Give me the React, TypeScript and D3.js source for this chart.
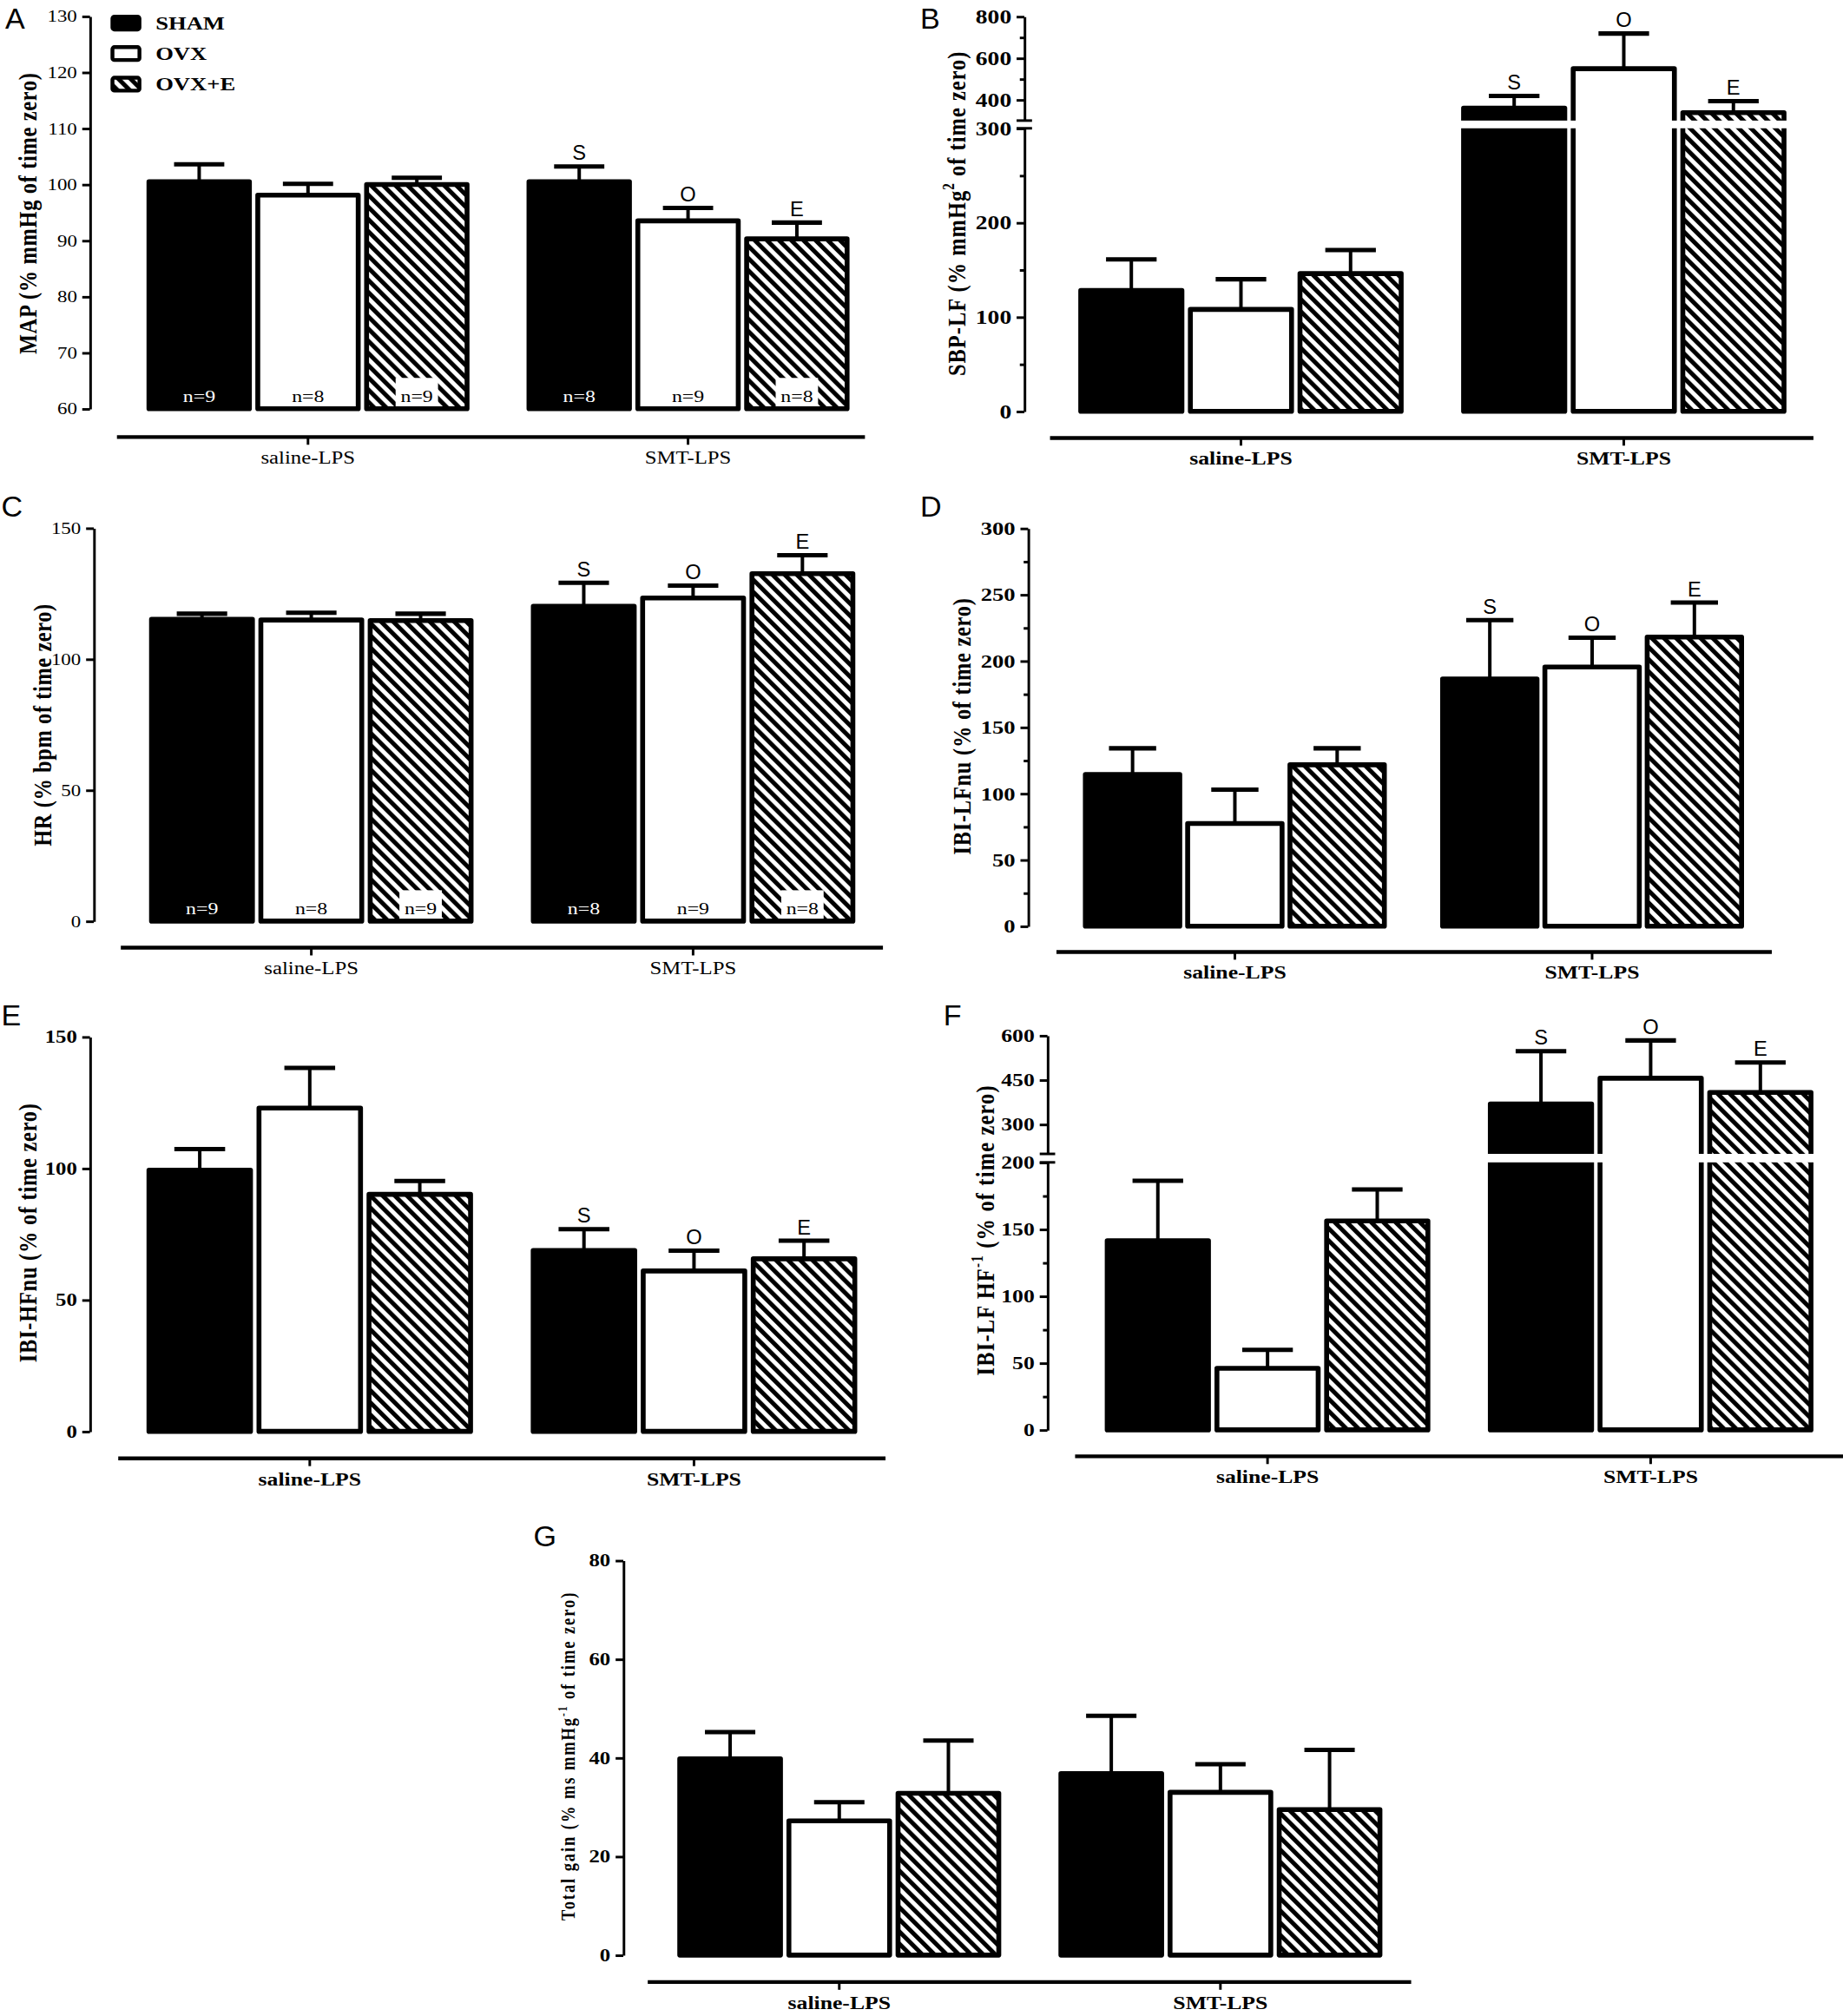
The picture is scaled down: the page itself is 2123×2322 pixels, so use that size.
import React, { useEffect, useRef } from 'react';
import * as d3 from 'd3';

// ---- data ----
const groups = ['saline-LPS', 'SMT-LPS'];
const series = ['SHAM', 'OVX', 'OVX+E'];
const nCounts = [['n=9', 'n=8', 'n=9'], ['n=8', 'n=9', 'n=8']];
const sigLetters = ['S', 'O', 'E'];

// [group][series] means and SEM
const mapMean = [[100.5, 98.1, 100.0], [100.5, 93.5, 90.3]];
const mapSem = [[3.1, 2.0, 1.2], [2.7, 2.3, 2.9]];
const sbpLfMean = [[128, 108, 146], [360, 549, 338]];
const sbpLfSem = [[33, 32, 25], [58, 169, 55]];
const hrMean = [[115.2, 114.9, 114.7], [120.1, 123.3, 132.6]];
const hrSem = [[2.1, 2.8, 2.6], [9.0, 4.7, 7.0]];
const lfNuMean = [[114.4, 77.4, 121.7], [186.4, 195.4, 218.0]];
const lfNuSem = [[19.7, 25.5, 12.4], [44.3, 22.1, 26.0]];
const hfNuMean = [[99.3, 122.9, 90.1], [68.8, 61.0, 65.6]];
const hfNuSem = [[8.0, 15.3, 5.1], [8.1, 7.7, 6.9]];
const lfHfMean = [[141.4, 46.0, 156.2], [368.9, 455.6, 407.8]];
const lfHfSem = [[44.8, 13.8, 23.6], [177.8, 127.7, 101.1]];
const gainMean = [[39.8, 27.2, 32.8], [36.8, 33.0, 29.5]];
const gainSem = [[5.4, 3.8, 10.7], [11.7, 5.7, 12.1]];

// tick values
const mapTicks = [60, 70, 80, 90, 100, 110, 120, 130];
const sbpLowTicks = [0, 100, 200, 300];
const sbpLowMinor = [50, 150, 250];
const sbpHighTicks = [400, 600, 800];
const sbpHighMinor = [500, 700];
const hrTicks = [0, 50, 100, 150];
const lfNuTicks = [0, 50, 100, 150, 200, 250, 300];
const lfNuMinor = [25, 75, 125, 175, 225, 275];
const hfNuTicks = [0, 50, 100, 150];
const lfHfLowTicks = [0, 50, 100, 150, 200];
const lfHfLowMinor = [25, 75, 125, 175];
const lfHfHighTicks = [300, 450, 600];
const gainTicks = [0, 20, 40, 60, 80];

// ---- layout ----
const W = 1434;
const H = 1568.4;
const SX = 1.24; // the figure's serif text is horizontally stretched
const SERIF = '"Liberation Serif", "Times New Roman", serif';
const SANS = '"Liberation Sans", Arial, sans-serif';
const BAR_STROKE = 3.8;
const FILLS = ['#000', '#fff', 'url(#hatch)'];

const panels = [
  {
    letter: 'A', lx: 4, ly: 22, mean: mapMean, sem: mapSem, axisX: 70,
    segments: [{ domain: [60, 130], range: [318, 12.6], ticks: mapTicks, minor: [] }],
    bars: [114, 661], xAxis: { y: 340, x0: 91, x1: 673 },
    title: [['MAP (% mmHg of time zero)', false]], tx: 21, ty: 166, tsize: 16.5, tls: 0.45,
    tickFont: 12.5, tickBold: false, catBold: false, nLabels: true, legend: true, sig: true,
  },
  {
    letter: 'B', lx: 716, ly: 22, mean: sbpLfMean, sem: sbpLfSem, axisX: 797,
    segments: [
      { domain: [0, 300], range: [320, 99.8], ticks: sbpLowTicks, minor: sbpLowMinor },
      { domain: [300, 800], range: [93.8, 12.8], ticks: sbpHighTicks, minor: sbpHighMinor },
    ],
    bars: [839, 1390], xAxis: { y: 340.7, x0: 817, x1: 1411 },
    title: [['SBP-LF (% mmHg', false], ['2', true], [' of time zero)', false]], tx: 744, ty: 166, tsize: 16.5, tls: 0.7,
    tickFont: 15, tickBold: true, catBold: true, nLabels: false, legend: false, sig: true,
  },
  {
    letter: 'C', lx: 1, ly: 402, mean: hrMean, sem: hrSem, axisX: 73,
    segments: [{ domain: [0, 150], range: [716.6, 410.8], ticks: hrTicks, minor: [] }],
    bars: [116, 665.5], xAxis: { y: 737.3, x0: 94, x1: 687 },
    title: [['HR (% bpm of time zero)', false]], tx: 33, ty: 564, tsize: 16.5, tls: 0.4,
    tickFont: 12.5, tickBold: false, catBold: false, nLabels: true, legend: false, sig: true,
  },
  {
    letter: 'D', lx: 716, ly: 402, mean: lfNuMean, sem: lfNuSem, axisX: 800,
    segments: [{ domain: [0, 300], range: [720.5, 411], ticks: lfNuTicks, minor: lfNuMinor }],
    bars: [842.6, 1357], xAxis: { y: 740.6, x0: 822, x1: 1378.6 },
    title: [['IBI-LFnu (% of time zero)', false]], tx: 748, ty: 565, tsize: 16.5, tls: 0.5,
    tickFont: 14.5, tickBold: true, catBold: true, nLabels: false, legend: false, sig: true,
  },
  {
    letter: 'E', lx: 1, ly: 798, mean: hfNuMean, sem: hfNuSem, axisX: 70,
    segments: [{ domain: [0, 150], range: [1113.6, 806.6], ticks: hfNuTicks, minor: [] }],
    bars: [114, 667], xAxis: { y: 1134.6, x0: 92, x1: 689 },
    title: [['IBI-HFnu (% of time zero)', false]], tx: 21, ty: 959, tsize: 16.5, tls: 0.5,
    tickFont: 13.5, tickBold: true, catBold: true, nLabels: false, legend: false, sig: true,
  },
  {
    letter: 'F', lx: 734, ly: 798, mean: lfHfMean, sem: lfHfSem, axisX: 815,
    segments: [
      { domain: [0, 200], range: [1112.4, 904.3], ticks: lfHfLowTicks, minor: lfHfLowMinor },
      { domain: [200, 600], range: [897.7, 805.6], ticks: lfHfHighTicks, minor: [] },
    ],
    bars: [859.6, 1411], xAxis: { y: 1133, x0: 836.5, x1: 1434 },
    title: [['IBI-LF HF', false], ['-1', true], [' (% of time zero)', false]], tx: 766, ty: 957, tsize: 16.5, tls: 0.8,
    tickFont: 14, tickBold: true, catBold: true, nLabels: false, legend: false, sig: true,
  },
  {
    letter: 'G', lx: 415, ly: 1203, mean: gainMean, sem: gainSem, axisX: 485,
    segments: [{ domain: [0, 80], range: [1521, 1214], ticks: gainTicks, minor: [] }],
    bars: [527, 1075.6], xAxis: { y: 1542, x0: 504, x1: 1098 },
    title: [['Total gain (% ms mmHg', false], ['-1', true], [' of time zero)', false]], tx: 442, ty: 1366, tsize: 12.5, tls: 1.3,
    tickFont: 13.5, tickBold: true, catBold: true, nLabels: false, legend: false, sig: false,
  },
];

function drawPanel(svg: any, p: any) {
  const g = svg.append('g');

  const segs = p.segments.map((s: any) => ({ ...s, scale: d3.scaleLinear().domain(s.domain).range(s.range) }));
  const yPos = (v: number) => {
    const s = segs.find((s: any) => v <= s.domain[1]) || segs[segs.length - 1];
    return s.scale(v);
  };
  const y0 = yPos(segs[0].domain[0]);

  const gx = d3.scaleBand<string>()
    .domain(groups)
    .range([p.bars[0] + BAR_STROKE / 2, p.bars[1] - BAR_STROKE / 2])
    .paddingInner(0.163);
  const sx = d3.scaleBand<string>()
    .domain(series)
    .range([0, gx.bandwidth()])
    .paddingInner(0.077);
  const bw = sx.bandwidth();

  const cells = groups.flatMap((grp, gi) => series.map((ser, si) => ({
    gi, si,
    mean: p.mean[gi][si],
    sem: p.sem[gi][si],
    x: (gx(grp) as number) + (sx(ser) as number),
  })));

  // bars
  g.append('g').selectAll('rect')
    .data(cells)
    .join('rect')
    .attr('x', (d: any) => d.x)
    .attr('y', (d: any) => yPos(d.mean))
    .attr('width', bw)
    .attr('height', (d: any) => y0 - yPos(d.mean))
    .attr('fill', (d: any) => FILLS[d.si])
    .attr('stroke', '#000')
    .attr('stroke-width', BAR_STROKE)
    .attr('stroke-linejoin', 'round');

  // error bars (upper only)
  const eb = g.append('g').attr('stroke', '#000');
  eb.selectAll('line.stem')
    .data(cells)
    .join('line')
    .attr('class', 'stem')
    .attr('x1', (d: any) => d.x + bw / 2)
    .attr('x2', (d: any) => d.x + bw / 2)
    .attr('y1', (d: any) => yPos(d.mean))
    .attr('y2', (d: any) => yPos(d.mean + d.sem))
    .attr('stroke-width', 2.7);
  eb.selectAll('line.cap')
    .data(cells)
    .join('line')
    .attr('class', 'cap')
    .attr('x1', (d: any) => d.x + bw * 0.25)
    .attr('x2', (d: any) => d.x + bw * 0.75)
    .attr('y1', (d: any) => yPos(d.mean + d.sem))
    .attr('y2', (d: any) => yPos(d.mean + d.sem))
    .attr('stroke-width', 3.4);

  // axis break gap across bars
  for (let i = 0; i < segs.length - 1; i++) {
    const yLow = segs[i].range[1];
    const yHigh = segs[i + 1].range[0];
    g.append('rect')
      .attr('x', p.bars[0] - 2)
      .attr('y', yHigh)
      .attr('width', p.bars[1] - p.bars[0] + 4)
      .attr('height', yLow - yHigh)
      .attr('fill', '#fff');
    [yLow, yHigh].forEach((yy) => {
      g.append('line')
        .attr('x1', p.axisX - 6).attr('x2', p.axisX + 6)
        .attr('y1', yy).attr('y2', yy)
        .attr('stroke', '#000').attr('stroke-width', 2);
    });
  }

  // y axis, one piece per segment
  segs.forEach((s: any) => {
    const ax = g.append('g')
      .attr('transform', `translate(${p.axisX},0)`)
      .call(d3.axisLeft(s.scale).tickValues(s.ticks).tickSize(6).tickSizeOuter(0).tickPadding(4))
      .attr('font-family', SERIF)
      .attr('font-size', p.tickFont)
      .attr('font-weight', p.tickBold ? 'bold' : 'normal');
    ax.select('.domain').attr('stroke-width', 2);
    ax.selectAll('.tick line').attr('stroke-width', 2);
    ax.selectAll('text')
      .attr('x', -10 / SX)
      .attr('transform', `scale(${SX},1)`);

    if (s.minor.length) {
      g.append('g')
        .attr('transform', `translate(${p.axisX},0)`)
        .call(d3.axisLeft(s.scale).tickValues(s.minor).tickSize(3.5).tickFormat(() => ''))
        .call((a: any) => a.select('.domain').remove())
        .selectAll('.tick line').attr('stroke-width', 2);
    }
  });

  // x axis
  const xa = g.append('g')
    .attr('transform', `translate(0,${p.xAxis.y})`)
    .call(d3.axisBottom(gx).tickSize(6).tickSizeOuter(0).tickPadding(5))
    .attr('font-family', SERIF)
    .attr('font-size', p.catBold ? 14 : 13.5)
    .attr('font-weight', p.catBold ? 'bold' : 'normal');
  xa.select('.domain').attr('d', `M${p.xAxis.x0},0H${p.xAxis.x1}`).attr('stroke-width', 3);
  xa.selectAll('.tick line').attr('stroke-width', 2);
  xa.selectAll('text').attr('transform', `scale(${SX},1)`);

  // y title
  const tt = g.append('text')
    .attr('transform', `translate(${p.tx},${p.ty}) scale(${SX},1) rotate(-90)`)
    .attr('text-anchor', 'middle')
    .attr('dy', '0.35em')
    .attr('font-family', SERIF)
    .attr('font-weight', 'bold')
    .attr('font-size', p.tsize)
    .attr('letter-spacing', p.tls);
  let shifted = false;
  p.title.forEach(([txt, sup]: [string, boolean]) => {
    const ts = tt.append('tspan').text(txt);
    if (sup) {
      ts.attr('font-size', p.tsize * 0.62).attr('dy', -p.tsize * 0.42);
      shifted = true;
    } else if (shifted) {
      ts.attr('dy', p.tsize * 0.42);
      shifted = false;
    }
  });

  // panel letter
  g.append('text')
    .attr('x', p.lx).attr('y', p.ly)
    .attr('font-family', SANS)
    .attr('font-size', 23)
    .text(p.letter);

  // significance letters on SMT-LPS
  if (p.sig) {
    g.append('g').selectAll('text')
      .data(cells.filter((d) => d.gi === 1))
      .join('text')
      .attr('x', (d: any) => d.x + bw / 2)
      .attr('y', (d: any) => yPos(d.mean + d.sem) - 5)
      .attr('text-anchor', 'middle')
      .attr('font-family', SANS)
      .attr('font-size', 16)
      .text((d: any) => sigLetters[d.si]);
  }

  // n labels
  if (p.nLabels) {
    const nl = g.append('g');
    cells.forEach((d) => {
      const cx = d.x + bw / 2;
      if (d.si === 2) {
        nl.append('rect')
          .attr('x', cx - 16.5).attr('y', y0 - 24)
          .attr('width', 33).attr('height', 22.1)
          .attr('fill', '#fff');
      }
      nl.append('text')
        .attr('transform', `translate(${cx},${y0 - 5.5}) scale(${SX},1)`)
        .attr('text-anchor', 'middle')
        .attr('font-family', SERIF)
        .attr('font-size', 13)
        .attr('fill', d.si === 0 ? '#fff' : '#000')
        .text(nCounts[d.gi][d.si]);
    });
  }

  // legend
  if (p.legend) {
    const lg = g.append('g');
    const ly = d3.scalePoint<string>().domain(series).range([17.9, 65.5]);
    series.forEach((ser, si) => {
      const cy = ly(ser) as number;
      lg.append('rect')
        .attr('x', 87.5).attr('y', cy - 5)
        .attr('width', 21).attr('height', 10)
        .attr('rx', 1.5)
        .attr('fill', FILLS[si])
        .attr('stroke', '#000')
        .attr('stroke-width', 3);
      lg.append('text')
        .attr('transform', `translate(121,${cy + 5}) scale(${SX},1)`)
        .attr('font-family', SERIF)
        .attr('font-weight', 'bold')
        .attr('font-size', 14.5)
        .text(ser);
    });
  }
}

export default function App() {
  const svgRef = useRef<SVGSVGElement>(null);

  useEffect(() => {
    if (!svgRef.current) return;
    const svg = d3.select(svgRef.current);
    svg.selectAll('*').remove();

    svg.append('rect').attr('width', W).attr('height', H).attr('fill', '#fff');

    // diagonal hatch for OVX+E
    const pat = svg.append('defs').append('pattern')
      .attr('id', 'hatch')
      .attr('patternUnits', 'userSpaceOnUse')
      .attr('width', 6.7)
      .attr('height', 6.7)
      .attr('patternTransform', 'rotate(-45)');
    pat.append('rect').attr('width', 6.7).attr('height', 6.7).attr('fill', '#fff');
    pat.append('rect').attr('width', 3.4).attr('height', 6.7).attr('fill', '#000');

    panels.forEach((p) => drawPanel(svg, p));
  }, []);

  return (
    <svg
      ref={svgRef}
      width={2123}
      height={2322}
      viewBox={`0 0 ${W} ${H}`}
      style={{ position: 'absolute', left: 0, top: 0, display: 'block' }}
    />
  );
}
